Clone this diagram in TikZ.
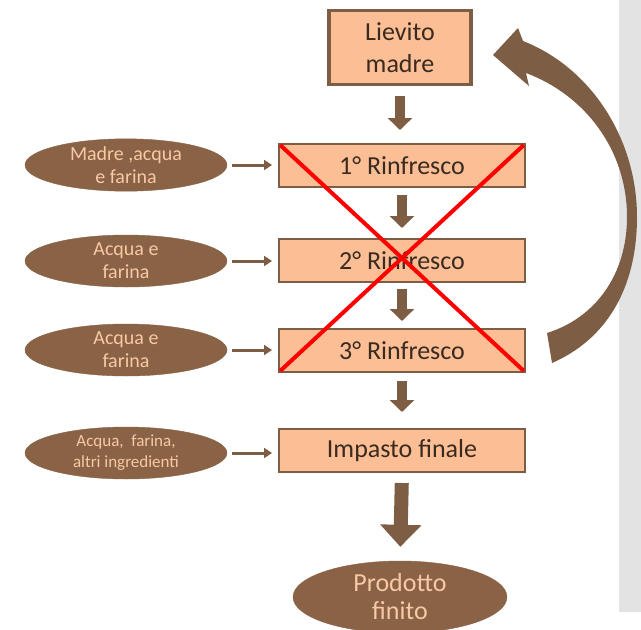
\documentclass[tikz,border=0pt]{standalone}
\usepackage{fontspec}
\setmainfont{Carlito}
\usetikzlibrary{arrows.meta,shapes.geometric}
\definecolor{peach}{HTML}{FBBE95}
\definecolor{brn}{HTML}{7E5D45}
\definecolor{ellbrn}{HTML}{8A6246}
\definecolor{elltxt}{HTML}{F7C9A5}
\definecolor{boxtxt}{HTML}{3A2A20}
\definecolor{panel}{HTML}{E3E3E3}
\begin{document}
\begin{tikzpicture}[x=1pt,y=-1pt,
  stepbox/.style={draw=brn, line width=2pt, fill=peach, minimum width=246pt, minimum height=43pt, inner sep=0pt, font=\fontsize{26}{30}\selectfont, text=boxtxt},
  ingr/.style={ellipse, fill=ellbrn, draw=ellbrn, minimum width=202pt, minimum height=52pt, inner sep=0pt, text=elltxt, align=center, font=\fontsize{20}{23}\selectfont},
  feed/.style={draw=brn, line width=3pt, -{Triangle[width=10pt,length=8pt]}, shorten <=5pt, shorten >=6pt},
  down/.style={draw=brn, line width=10pt, -{Triangle[width=24pt,length=12pt]}},
  cross/.style={draw=red, line width=4pt, shorten <=3pt, shorten >=3pt}]
\useasboundingbox (0,0) rectangle (641,630);
\fill[panel] (619,0) rectangle (641,612);

\node[stepbox, line width=3.5pt, minimum width=142pt, minimum height=74pt, align=center, font=\fontsize{26}{32}\selectfont] (lm) at (400,47.5) {Lievito\\madre};
\node[stepbox] (r1) at (402,165.5) {1° Rinfresco};
\node[stepbox] (r2) at (402,260.5) {2° Rinfresco};
\node[stepbox] (r3) at (402,350.5) {3° Rinfresco};
\node[stepbox] (imp) at (402,450.5) {Impasto finale};
\node[ellipse, fill=ellbrn, draw=ellbrn, minimum width=214pt, minimum height=72pt, inner sep=0pt, text=elltxt, align=center, font=\fontsize{26}{28}\selectfont] (prod) at (400,597) {Prodotto\\finito};

\node[ingr] (e1) at (126,165) {Madre ,acqua\\e farina};
\node[ingr] (e2) at (126,261) {Acqua e\\farina};
\node[ingr] (e3) at (126,350) {Acqua e\\farina};
\node[ingr, font=\fontsize{17}{21}\selectfont] (e4) at (126,453) {Acqua,\ \ farina,\\altri ingredienti};

\draw[feed] (e1.east) -- (e1.east -| r1.west);
\draw[feed] (e2.east) -- (e2.east -| r2.west);
\draw[feed] (e3.east) -- (e3.east -| r3.west);
\draw[feed] (e4.east) -- (e4.east -| imp.west);

\draw[down, shorten <=10pt, shorten >=13pt] (lm.south) -- (lm.south |- r1.north);
\draw[down, shorten <=7pt, shorten >=10pt] (r1.south) -- (r2.north);
\draw[down, shorten <=6pt, shorten >=7pt] (r2.south) -- (r3.north);
\draw[down, shorten <=8pt, shorten >=16pt] (r3.south) -- (imp.north);
\draw[draw=brn, line width=14pt, -{Triangle[width=40pt,length=22pt]}, shorten <=10pt, shorten >=14pt] (imp.south) -- (prod.north);

\draw[cross] (r1.north west) -- (r3.south east);
\draw[cross] (r1.north east) -- (r3.south west);

\fill[brn] (547,333) -- (552,363)
  .. controls (605,340) and (637,290) .. (637,217)
  .. controls (637,140) and (592,68) .. (523,41)
  -- (518,28) -- (493,55) -- (529,86) -- (526,73)
  .. controls (585,95) and (627,150) .. (627,217)
  .. controls (627,275) and (595,318) .. (547,333) -- cycle;
\end{tikzpicture}
\end{document}
